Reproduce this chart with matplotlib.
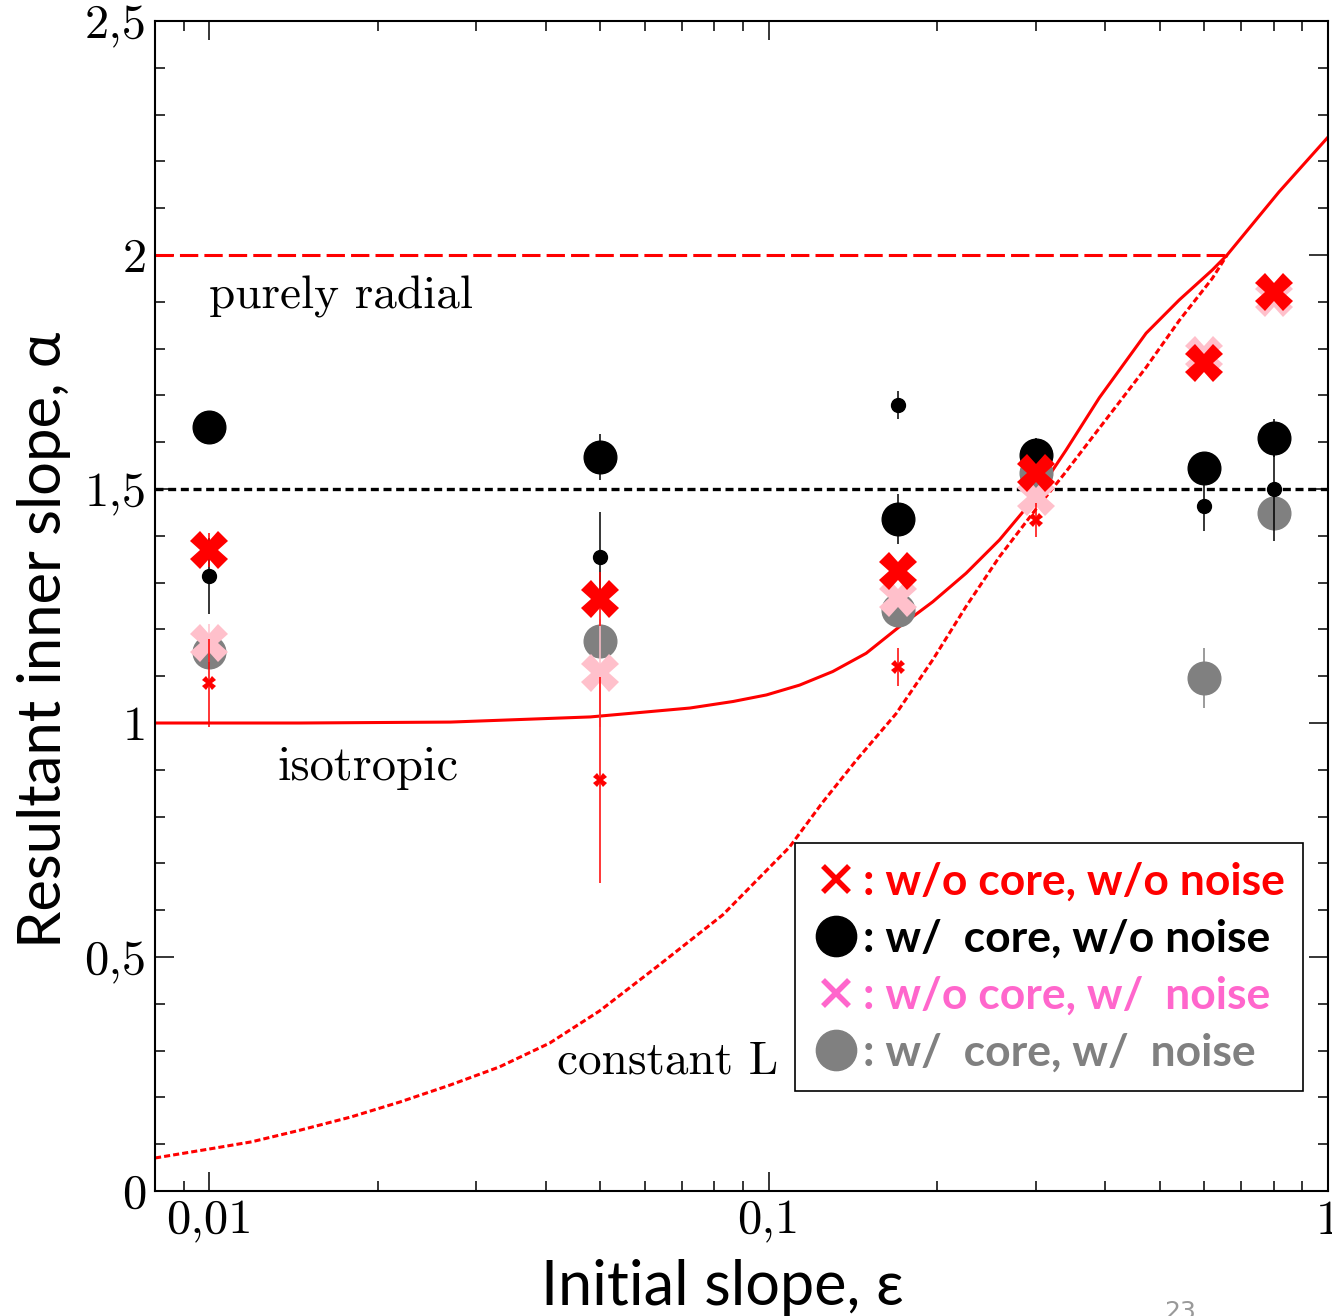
import numpy as np
import matplotlib.pyplot as plt
from matplotlib.lines import Line2D
from matplotlib.ticker import FixedLocator, MultipleLocator, LogLocator, NullFormatter

# initial slope values of the runs
eps = [0.01, 0.05, 0.17, 0.3, 0.6, 0.8]

# w/o core, w/o noise (big red X) and the small red x set
alpha_nocore_nonoise = [1.37, 1.265, 1.325, 1.535, 1.77, 1.92]
err_nocore_nonoise = [0.036, 0.058, 0.0, 0.0, 0.0, 0.0]
alpha_nocore_nonoise_b = [1.085, 0.878, 1.12, 1.434, np.nan, np.nan]
err_nocore_nonoise_b = [0.094, 0.22, 0.04, 0.036, np.nan, np.nan]

# w/ core, w/o noise (big black) and the small black set
alpha_core_nonoise = [1.632, 1.568, 1.436, 1.573, 1.545, 1.609]
err_core_nonoise = [0.0, 0.049, 0.053, 0.036, 0.0, 0.04]
alpha_core_nonoise_b = [1.314, 1.355, 1.679, np.nan, 1.464, 1.50]
err_core_nonoise_b = [0.081, 0.096, 0.03, np.nan, 0.053, 0.11]

# w/o core, w/ noise (pink) and w/ core, w/ noise (grey)
alpha_nocore_noise = [1.171, 1.107, 1.267, 1.483, 1.786, 1.908]
err_nocore_noise = [0.04, 0.115, 0.0, 0.0, 0.0, 0.0]
alpha_core_noise = [1.152, 1.175, 1.241, 1.534, 1.096, 1.449]
err_core_noise = [0.0, 0.0, 0.0, 0.0, 0.064, 0.0]

# model curves
iso_eps = [0.008, 0.0145, 0.027, 0.048, 0.0723, 0.0864, 0.0991, 0.1136, 0.1302,
           0.1494, 0.1714, 0.1965, 0.2254, 0.2585, 0.2965, 0.3401, 0.3901,
           0.473, 0.542, 0.621, 0.66, 0.8175, 1.0]
iso_alpha = [1.0, 1.0, 1.002, 1.013, 1.032, 1.046, 1.060, 1.081, 1.110,
             1.149, 1.206, 1.259, 1.320, 1.391, 1.476, 1.583, 1.695,
             1.833, 1.904, 1.968, 2.0, 2.135, 2.252]

constL_eps = [0.008, 0.01, 0.0119, 0.01454, 0.0179, 0.0219, 0.0269, 0.033, 0.0406,
              0.0499, 0.0631, 0.0828, 0.109, 0.1248, 0.1436, 0.169, 0.1965, 0.2254,
              0.2585, 0.2965, 0.3401, 0.3901, 0.473, 0.542, 0.621, 0.66]
constL_alpha = [0.0705, 0.0897, 0.105, 0.130, 0.158, 0.190, 0.226, 0.265, 0.316,
                0.385, 0.479, 0.59, 0.735, 0.83, 0.921, 1.02, 1.135, 1.249,
                1.355, 1.448, 1.537, 1.630, 1.76, 1.86, 1.95, 2.0]

radial_alpha = 2.0
radial_end = 0.66
ref_alpha = 1.5

xticks = [0.01, 0.1, 1]
xticklabels = ['0,01', '0,1', '1']
yticks = [0, 0.5, 1, 1.5, 2, 2.5]
yticklabels = ['0', '0,5', '1', '1,5', '2', '2,5']

fig = plt.figure(figsize=(13.32, 13.16), dpi=100)
ax = fig.add_axes([0.1164, 0.0950, 0.8806, 0.889])
ax.set_xscale('log')
ax.set_xlim(0.008, 1)
ax.set_ylim(0, 2.5)

# reference lines and model curves
ax.axhline(ref_alpha, color='black', lw=2.4, ls=(0, (2.4, 1.4)), zorder=1)
ax.hlines(radial_alpha, 0.008, radial_end, color='red', lw=2.2, linestyles=(0, (6, 2)), zorder=2)
ax.plot(iso_eps, iso_alpha, color='red', lw=2.2, zorder=2)
ax.plot(constL_eps, constL_alpha, color='red', lw=2.2, ls=(0, (2, 1)), zorder=2)

# data points
ax.errorbar(eps, alpha_core_noise, yerr=err_core_noise, fmt='o', color='#808080',
            ms=23.5, elinewidth=1.1, capsize=0, zorder=3)
ax.errorbar(eps, alpha_nocore_noise, yerr=err_nocore_noise, fmt='X', color='#FFC0CB',
            ms=27, mew=0, elinewidth=1.1, capsize=0, zorder=4)
ax.errorbar(eps, alpha_core_nonoise, yerr=err_core_nonoise, fmt='o', color='black',
            ms=23.5, elinewidth=1.1, capsize=0, zorder=5)
ax.errorbar(eps, alpha_core_nonoise_b, yerr=err_core_nonoise_b, fmt='o', color='black',
            ms=10, elinewidth=1.1, capsize=0, zorder=6)
ax.errorbar(eps, alpha_nocore_nonoise, yerr=err_nocore_nonoise, fmt='X', color='red',
            ms=27, mew=0, elinewidth=1.1, capsize=0, zorder=7)
ax.errorbar(eps, alpha_nocore_nonoise_b, yerr=err_nocore_nonoise_b, fmt='X', color='red',
            ms=10, mew=0, elinewidth=1.1, capsize=0, zorder=8)

# annotations
ax.text(0.01, 1.91, 'purely radial', fontfamily='cmr10', fontsize=34, va='center')
ax.text(0.01327, 0.904, 'isotropic', fontfamily='cmr10', fontsize=35, va='center')
ax.text(0.0418, 0.276, 'constant L', fontfamily='cmr10', fontsize=34, va='center')

# ticks
ax.xaxis.set_major_locator(FixedLocator(xticks))
ax.xaxis.set_minor_locator(LogLocator(base=10, subs=range(2, 10)))
ax.xaxis.set_minor_formatter(NullFormatter())
ax.set_xticklabels(xticklabels, fontfamily='cmr10', fontsize=35)
ax.yaxis.set_major_locator(FixedLocator(yticks))
ax.yaxis.set_minor_locator(MultipleLocator(0.1))
ax.set_yticklabels(yticklabels, fontfamily='cmr10', fontsize=35)
ax.tick_params(which='both', direction='in', top=True, right=True, width=1.1)
ax.tick_params(which='major', length=14, pad=6)
ax.tick_params(which='minor', length=7)
for s in ax.spines.values():
    s.set_linewidth(1.5)

fig.text(722 / 1332, 1 - 1287 / 1316, 'Initial slope, ε', family=['Lato', 'DejaVu Sans'],
         fontsize=44, ha='center', va='center')
fig.text(44 / 1332, 1 - 640 / 1316, 'Resultant inner slope, α', family=['Lato', 'DejaVu Sans'],
         fontsize=43, ha='center', va='center', rotation=90)

# legend
handles = [
    Line2D([], [], ls='none', marker='x', color='red', ms=19, mew=4),
    Line2D([], [], ls='none', marker='o', color='black', ms=29),
    Line2D([], [], ls='none', marker='x', color='#FF66CC', ms=19, mew=4),
    Line2D([], [], ls='none', marker='o', color='#808080', ms=29),
]
labels = [': w/o core, w/o noise', ': w/  core, w/o noise',
          ': w/o core, w/  noise', ': w/  core, w/  noise']
leg = ax.legend(handles, labels, loc='upper left', bbox_to_anchor=(0.5456, 0.2974),
                borderaxespad=0, frameon=True, fancybox=False, edgecolor='black',
                framealpha=1, prop=dict(family='Lato', weight='bold', size=32),
                labelcolor=['red', 'black', '#FF66CC', '#808080'],
                handlelength=1.0, handletextpad=0.1, borderpad=0.42, labelspacing=0.38)
leg.get_frame().set_linewidth(1.2)
leg.set_zorder(10)

fig.text(1180 / 1332, 1 - 1300 / 1316, '23', color='#999999', fontsize=18,
         ha='center', va='top')

fig.savefig('out.png', dpi=100)
